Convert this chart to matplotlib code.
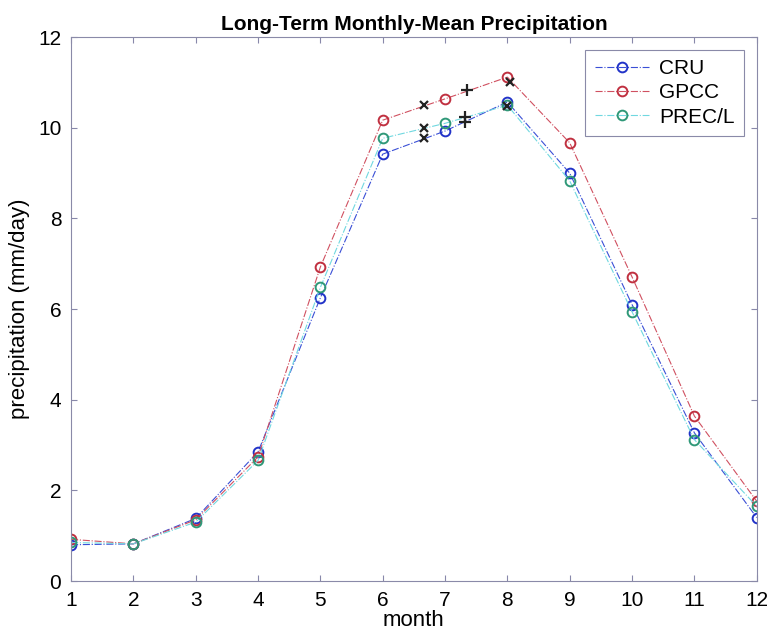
import numpy as np
import matplotlib
matplotlib.use("Agg")
import matplotlib.pyplot as plt

plt.rcParams['font.family'] = ['Liberation Sans', 'DejaVu Sans']

# Données
mois = np.arange(1, 13)
cru = [0.80, 0.82, 1.38, 2.85, 6.25, 9.42, 9.93, 10.57, 9.00, 6.10, 3.27, 1.40]
gpcc = [0.92, 0.82, 1.35, 2.74, 6.93, 10.17, 10.64, 11.12, 9.67, 6.71, 3.64, 1.76]
precl = [0.85, 0.82, 1.30, 2.66, 6.48, 9.77, 10.10, 10.50, 8.83, 5.94, 3.12, 1.65]

# marqueurs noirs supplémentaires (x et +)
x_croix = [6.67, 6.67, 6.67, 8.05, 8.0]
y_croix = [10.51, 9.99, 9.77, 11.02, 10.48]
x_plus = [7.35, 7.32, 7.32]
y_plus = [10.84, 10.24, 10.13]

fig = plt.figure(figsize=(7.67, 6.42), dpi=100)
ax = fig.add_axes([0.0926, 0.095, 0.894, 0.847])

ax.plot(mois, cru, linestyle='-.', color='#3a4fd6', linewidth=0.8, marker='o',
        markersize=7, markerfacecolor='none', markeredgecolor='#2233c8',
        markeredgewidth=1.4, label='CRU')
ax.plot(mois, gpcc, linestyle='-.', color='#d05060', linewidth=0.8, marker='o',
        markersize=7, markerfacecolor='none', markeredgecolor='#c03040',
        markeredgewidth=1.4, label='GPCC')
ax.plot(mois, precl, linestyle='-.', color='#70d8e0', linewidth=0.8, marker='o',
        markersize=7, markerfacecolor='none', markeredgecolor='#2f9878',
        markeredgewidth=1.4, label='PREC/L')

ax.plot(x_croix, y_croix, 'x', color='#222222', markersize=6, markeredgewidth=1.6)
ax.plot(x_plus, y_plus, '+', color='#222222', markersize=8, markeredgewidth=1.6)

ax.set_xlim(1, 12)
ax.set_ylim(0, 12)
ax.set_xticks(mois)
ax.set_yticks(np.arange(0, 13, 2))
ax.tick_params(direction='in', top=True, right=True, labelsize=15, length=4,
               color='#8888aa', pad=7)
for s in ax.spines.values():
    s.set_color('#8a8aa8')
    s.set_linewidth(0.8)

ax.set_title('Long-Term Monthly-Mean Precipitation', fontsize=15, fontweight='bold', pad=5)
ax.set_xlabel('month', fontsize=16, labelpad=0)
ax.set_ylabel('precipitation (mm/day)', fontsize=16, labelpad=6)

leg = ax.legend(loc='upper right', fontsize=15, fancybox=False, framealpha=1,
                edgecolor='#8a8aa8', handlelength=2.6, borderpad=0.45,
                labelspacing=0.25, borderaxespad=0.6, handletextpad=0.5)
leg.get_frame().set_linewidth(0.8)

fig.savefig('out.png', dpi=100)
